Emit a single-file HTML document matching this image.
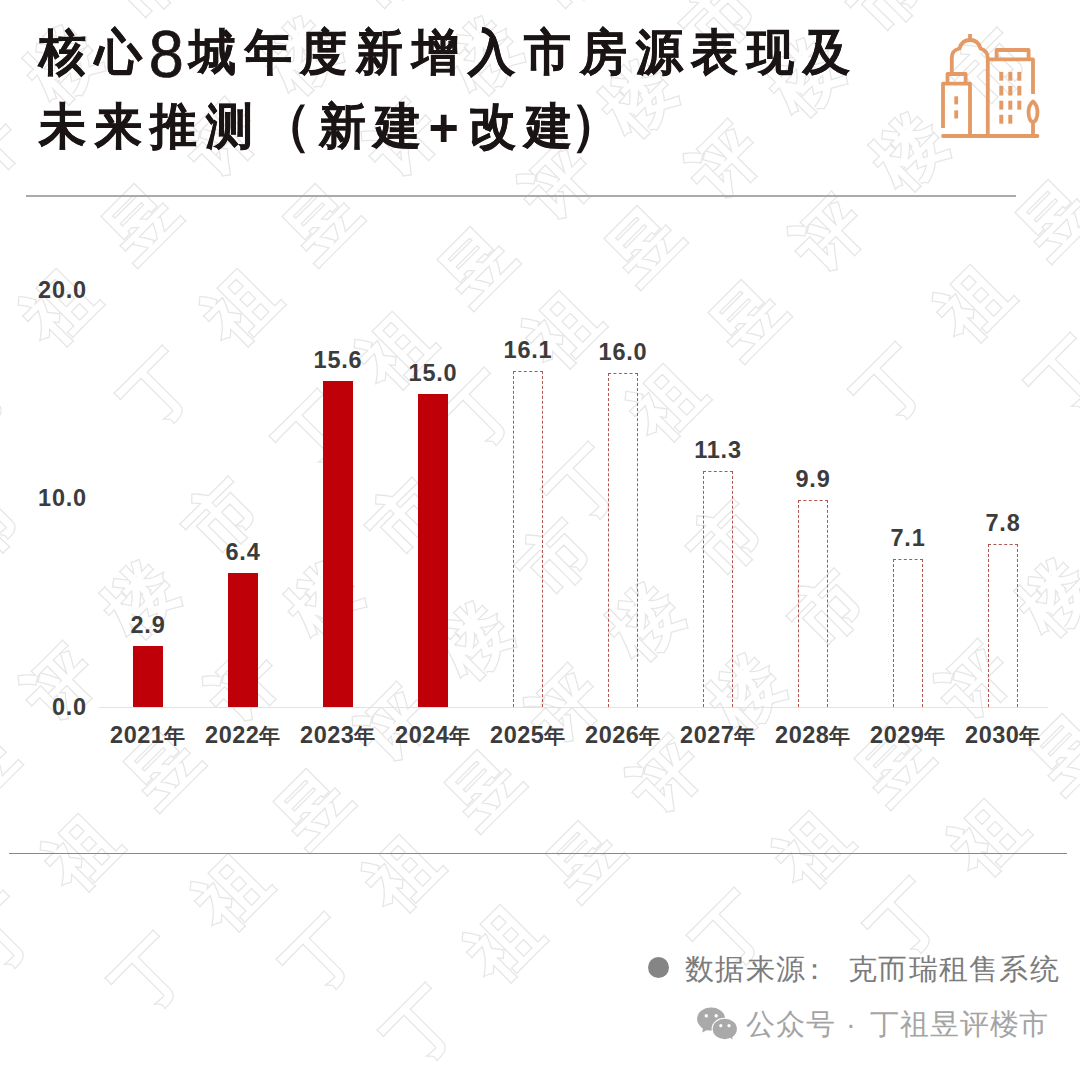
<!DOCTYPE html>
<html><head><meta charset="utf-8">
<style>
html,body{margin:0;padding:0;background:#fff;}
body{width:1080px;height:1067px;position:relative;overflow:hidden;font-family:"Liberation Sans",sans-serif;}
.abs{position:absolute;white-space:nowrap;}
.title{transform:translateY(0.5px) scaleY(1.045);transform-origin:0 24px;left:39px;font-size:47px;font-weight:bold;color:#1a1414;letter-spacing:8.85px;line-height:1;-webkit-text-stroke:0.5px #1a1414;}
.tb{-webkit-text-stroke:1.6px #1a1414;font-weight:normal;font-size:53px;line-height:0;position:relative;top:-0.5px;}
.tp{-webkit-text-stroke:0;font-size:52px;line-height:0;position:relative;top:2.5px;margin-left:-1px;margin-right:2px;}
.t8{-webkit-text-stroke:0.7px #1a1414;font-weight:normal;font-size:63px;letter-spacing:5px;line-height:0;position:relative;top:7px;margin-left:-2px;}
.rule1{position:absolute;left:26px;top:195px;width:990px;height:2px;background:#aaa;}
.rule2{position:absolute;left:9px;top:853px;width:1058px;height:1px;background:#888;}
.axis{position:absolute;left:99px;top:707px;width:949px;height:1px;background:#e2e2e2;}
.ylab{position:absolute;right:993px;font-size:23.5px;letter-spacing:0.8px;font-weight:bold;color:#3c3c3c;line-height:1;}
.bar{position:absolute;width:30px;background:#c00008;}
.dbar{position:absolute;width:30px;box-sizing:border-box;border:1px dashed #b05550;border-bottom:none;}
.val{position:absolute;width:100px;text-align:center;font-size:23.5px;letter-spacing:0.8px;font-weight:bold;color:#3c3c3c;line-height:1;}
.yr{position:absolute;width:100px;text-align:center;font-size:23.5px;letter-spacing:0.5px;font-weight:bold;color:#3c3c3c;line-height:1;}
.cj{font-size:21px;}
.foot{position:absolute;font-size:29px;letter-spacing:1.3px;line-height:1;white-space:nowrap;}
.foot2{color:#a4a4a4;letter-spacing:0.9px;}
.wm{position:absolute;width:90px;height:90px;line-height:90px;text-align:center;font-size:68px;font-weight:normal;color:#e6e6e6;-webkit-text-stroke:5.0px #e6e6e6;transform:rotate(-45deg);font-family:"Liberation Sans",sans-serif;}
.wm2{position:absolute;left:0;top:0;width:90px;height:90px;color:#fff;-webkit-text-stroke:2.4px #fff;}
.wmwrap{position:absolute;left:0;top:0;width:1080px;height:1067px;overflow:hidden;}
</style></head><body>
<div class="wmwrap"><div class="wm" style="left:-63.1px;top:102.9px">评<span class="wm2">评</span></div>
<div class="wm" style="left:17.9px;top:19.4px">楼<span class="wm2">楼</span></div>
<div class="wm" style="left:98.9px;top:-64.1px">市<span class="wm2">市</span></div>
<div class="wm" style="left:-67.4px;top:344.4px">丁<span class="wm2">丁</span></div>
<div class="wm" style="left:13.6px;top:260.9px">祖<span class="wm2">祖</span></div>
<div class="wm" style="left:94.6px;top:177.4px">昱<span class="wm2">昱</span></div>
<div class="wm" style="left:175.6px;top:93.9px">评<span class="wm2">评</span></div>
<div class="wm" style="left:256.6px;top:10.4px">楼<span class="wm2">楼</span></div>
<div class="wm" style="left:337.6px;top:-73.1px">市<span class="wm2">市</span></div>
<div class="wm" style="left:114.4px;top:344.4px">丁<span class="wm2">丁</span></div>
<div class="wm" style="left:195.4px;top:260.9px">祖<span class="wm2">祖</span></div>
<div class="wm" style="left:276.4px;top:177.4px">昱<span class="wm2">昱</span></div>
<div class="wm" style="left:357.4px;top:93.9px">评<span class="wm2">评</span></div>
<div class="wm" style="left:438.4px;top:10.4px">楼<span class="wm2">楼</span></div>
<div class="wm" style="left:519.4px;top:-73.1px">市<span class="wm2">市</span></div>
<div class="wm" style="left:268.9px;top:387.4px">丁<span class="wm2">丁</span></div>
<div class="wm" style="left:349.9px;top:303.9px">祖<span class="wm2">祖</span></div>
<div class="wm" style="left:430.9px;top:220.4px">昱<span class="wm2">昱</span></div>
<div class="wm" style="left:511.9px;top:136.9px">评<span class="wm2">评</span></div>
<div class="wm" style="left:592.9px;top:53.4px">楼<span class="wm2">楼</span></div>
<div class="wm" style="left:673.9px;top:-30.1px">市<span class="wm2">市</span></div>
<div class="wm" style="left:435.9px;top:366.4px">丁<span class="wm2">丁</span></div>
<div class="wm" style="left:516.9px;top:282.9px">祖<span class="wm2">祖</span></div>
<div class="wm" style="left:597.9px;top:199.4px">昱<span class="wm2">昱</span></div>
<div class="wm" style="left:678.9px;top:115.9px">评<span class="wm2">评</span></div>
<div class="wm" style="left:759.9px;top:32.4px">楼<span class="wm2">楼</span></div>
<div class="wm" style="left:840.9px;top:-51.1px">市<span class="wm2">市</span></div>
<div class="wm" style="left:539.9px;top:439.9px">丁<span class="wm2">丁</span></div>
<div class="wm" style="left:620.9px;top:356.4px">祖<span class="wm2">祖</span></div>
<div class="wm" style="left:701.9px;top:272.9px">昱<span class="wm2">昱</span></div>
<div class="wm" style="left:782.9px;top:189.4px">评<span class="wm2">评</span></div>
<div class="wm" style="left:863.9px;top:105.9px">楼<span class="wm2">楼</span></div>
<div class="wm" style="left:944.9px;top:22.4px">市<span class="wm2">市</span></div>
<div class="wm" style="left:846.9px;top:340.4px">丁<span class="wm2">丁</span></div>
<div class="wm" style="left:927.9px;top:256.9px">祖<span class="wm2">祖</span></div>
<div class="wm" style="left:1008.9px;top:173.4px">昱<span class="wm2">昱</span></div>
<div class="wm" style="left:1089.9px;top:89.9px">评<span class="wm2">评</span></div>
<div class="wm" style="left:-45.1px;top:889.4px">丁<span class="wm2">丁</span></div>
<div class="wm" style="left:35.9px;top:805.9px">祖<span class="wm2">祖</span></div>
<div class="wm" style="left:116.9px;top:722.4px">昱<span class="wm2">昱</span></div>
<div class="wm" style="left:197.9px;top:638.9px">评<span class="wm2">评</span></div>
<div class="wm" style="left:278.9px;top:555.4px">楼<span class="wm2">楼</span></div>
<div class="wm" style="left:359.9px;top:471.9px">市<span class="wm2">市</span></div>
<div class="wm" style="left:104.9px;top:929.4px">丁<span class="wm2">丁</span></div>
<div class="wm" style="left:185.9px;top:845.9px">祖<span class="wm2">祖</span></div>
<div class="wm" style="left:266.9px;top:762.4px">昱<span class="wm2">昱</span></div>
<div class="wm" style="left:347.9px;top:678.9px">评<span class="wm2">评</span></div>
<div class="wm" style="left:428.9px;top:595.4px">楼<span class="wm2">楼</span></div>
<div class="wm" style="left:509.9px;top:511.9px">市<span class="wm2">市</span></div>
<div class="wm" style="left:275.9px;top:910.4px">丁<span class="wm2">丁</span></div>
<div class="wm" style="left:356.9px;top:826.9px">祖<span class="wm2">祖</span></div>
<div class="wm" style="left:437.9px;top:743.4px">昱<span class="wm2">昱</span></div>
<div class="wm" style="left:518.9px;top:659.9px">评<span class="wm2">评</span></div>
<div class="wm" style="left:599.9px;top:576.4px">楼<span class="wm2">楼</span></div>
<div class="wm" style="left:680.9px;top:492.9px">市<span class="wm2">市</span></div>
<div class="wm" style="left:377.4px;top:980.9px">丁<span class="wm2">丁</span></div>
<div class="wm" style="left:458.4px;top:897.4px">祖<span class="wm2">祖</span></div>
<div class="wm" style="left:539.4px;top:813.9px">昱<span class="wm2">昱</span></div>
<div class="wm" style="left:620.4px;top:730.4px">评<span class="wm2">评</span></div>
<div class="wm" style="left:701.4px;top:646.9px">楼<span class="wm2">楼</span></div>
<div class="wm" style="left:782.4px;top:563.4px">市<span class="wm2">市</span></div>
<div class="wm" style="left:685.9px;top:886.4px">丁<span class="wm2">丁</span></div>
<div class="wm" style="left:766.9px;top:802.9px">祖<span class="wm2">祖</span></div>
<div class="wm" style="left:847.9px;top:719.4px">昱<span class="wm2">昱</span></div>
<div class="wm" style="left:928.9px;top:635.9px">评<span class="wm2">评</span></div>
<div class="wm" style="left:1009.9px;top:552.4px">楼<span class="wm2">楼</span></div>
<div class="wm" style="left:1090.9px;top:468.9px">市<span class="wm2">市</span></div>
<div class="wm" style="left:860.9px;top:874.4px">丁<span class="wm2">丁</span></div>
<div class="wm" style="left:941.9px;top:790.9px">祖<span class="wm2">祖</span></div>
<div class="wm" style="left:1022.9px;top:707.4px">昱<span class="wm2">昱</span></div>
<div class="wm" style="left:-66.8px;top:721.0px">昱<span class="wm2">昱</span></div>
<div class="wm" style="left:14.2px;top:637.5px">评<span class="wm2">评</span></div>
<div class="wm" style="left:95.2px;top:554.0px">楼<span class="wm2">楼</span></div>
<div class="wm" style="left:176.2px;top:470.5px">市<span class="wm2">市</span></div>
<div class="wm" style="left:-62.5px;top:479.5px">市<span class="wm2">市</span></div>
<div class="wm" style="left:1022.3px;top:330.8px">丁<span class="wm2">丁</span></div></div>
<div class="abs title" style="top:28px">核心<span class="t8">8</span>城年度新增入市房源表现及</div>
<div class="abs title" style="top:101.5px;letter-spacing:8.5px">未来推测<span class="tb" style="margin-left:-2px;margin-right:-2px">（</span>新建<span class="tp">+</span>改建<span class="tb" style="margin-left:-10px">）</span></div>
<svg style="position:absolute;left:930px;top:25px" width="120" height="120" viewBox="930 25 120 120">
<g fill="none" stroke="#e39a64" stroke-width="3.8" stroke-linejoin="round">
<path d="M943,128 V83.6 H970 V136"/>
<path d="M947.5,83.6 V74 H965.6 V83.6"/>
<path d="M951.8,74 V58 C951.8,52 955,49.5 959.5,48.5 C961,43 965,40 970,40 C975,40 979,43 980.5,48.5 C985,50 987.8,53 987.8,58 V136"/>
<path d="M970,40 V34"/>
<path d="M987.8,59.3 H1033 V94"/>
<path d="M996.6,59.3 V50 H1028.6 V59.3"/>
<path d="M1033,123 V136"/>
<path d="M1033,101.5 C1030,104 1028.5,108 1028.5,112 C1028.5,118 1030.5,121.8 1033,121.8 C1035.5,121.8 1037.5,118 1037.5,112 C1037.5,108 1036,104 1033,101.5 Z"/>
<path d="M943,136 H1037.5" stroke-linecap="round"/>
</g>
<g fill="#e39a64">
<rect x="954.3" y="96.3" width="3.8" height="8.1"/>
<rect x="954.3" y="110.4" width="3.8" height="8.1"/>
<rect x="999.3" y="71.9" width="4" height="8.8"/>
<rect x="1008.3" y="71.9" width="4" height="8.8"/>
<rect x="1017.3" y="71.9" width="4" height="8.8"/>
<rect x="999.3" y="85.9" width="4" height="9.6"/>
<rect x="1008.3" y="85.9" width="4" height="9.6"/>
<rect x="1017.3" y="85.9" width="4" height="9.6"/>
<rect x="999.3" y="100.7" width="4" height="8.9"/>
<rect x="1008.3" y="100.7" width="4" height="8.9"/>
<rect x="1017.3" y="100.7" width="4" height="8.9"/>
<rect x="999.3" y="114.8" width="4" height="8.9"/>
<rect x="1008.3" y="114.8" width="4" height="8.9"/>
</g></svg>
<div class="rule1"></div>

<div class="ylab" style="top:278.5px">20.0</div>
<div class="ylab" style="top:487px">10.0</div>
<div class="ylab" style="top:696px">0.0</div>
<div class="axis"></div>

<div class="bar" style="left:133px;top:646.4px;height:60.6px"></div>
<div class="val" style="left:98px;top:614.4px">2.9</div>
<div class="yr" style="left:98px;top:724px">2021<span class="cj">年</span></div>
<div class="bar" style="left:228px;top:573.4px;height:133.6px"></div>
<div class="val" style="left:193px;top:541.4px">6.4</div>
<div class="yr" style="left:193px;top:724px">2022<span class="cj">年</span></div>
<div class="bar" style="left:323px;top:381.3px;height:325.7px"></div>
<div class="val" style="left:288px;top:349.3px">15.6</div>
<div class="yr" style="left:288px;top:724px">2023<span class="cj">年</span></div>
<div class="bar" style="left:418px;top:393.8px;height:313.2px"></div>
<div class="val" style="left:383px;top:361.8px">15.0</div>
<div class="yr" style="left:383px;top:724px">2024<span class="cj">年</span></div>
<div class="dbar" style="left:513px;top:370.8px;height:336.2px"></div>
<div class="val" style="left:478px;top:338.8px">16.1</div>
<div class="yr" style="left:478px;top:724px">2025<span class="cj">年</span></div>
<div class="dbar" style="left:608px;top:372.9px;height:334.1px"></div>
<div class="val" style="left:573px;top:340.9px">16.0</div>
<div class="yr" style="left:573px;top:724px">2026<span class="cj">年</span></div>
<div class="dbar" style="left:703px;top:471.1px;height:235.9px"></div>
<div class="val" style="left:668px;top:439.1px">11.3</div>
<div class="yr" style="left:668px;top:724px">2027<span class="cj">年</span></div>
<div class="dbar" style="left:798px;top:500.3px;height:206.7px"></div>
<div class="val" style="left:763px;top:468.3px">9.9</div>
<div class="yr" style="left:763px;top:724px">2028<span class="cj">年</span></div>
<div class="dbar" style="left:893px;top:558.8px;height:148.2px"></div>
<div class="val" style="left:858px;top:526.8px">7.1</div>
<div class="yr" style="left:858px;top:724px">2029<span class="cj">年</span></div>
<div class="dbar" style="left:988px;top:544.1px;height:162.9px"></div>
<div class="val" style="left:953px;top:512.1px">7.8</div>
<div class="yr" style="left:953px;top:724px">2030<span class="cj">年</span></div>

<div class="rule2"></div>
<div class="foot" style="left:685px;top:955px;color:#7c7c7c">数据来源<span style="margin-left:-6px">：</span></div>
<div class="foot" style="left:848px;top:955px;color:#7c7c7c">克而瑞租售系统</div>
<div style="position:absolute;left:648px;top:957px;width:21px;height:21px;border-radius:50%;background:#858585"></div>
<svg style="position:absolute;left:690px;top:1000px" width="55" height="45" viewBox="690 1000 55 45">
<g fill="#a9a9a9">
<ellipse cx="711.1" cy="1019" rx="14" ry="11.5"/>
<path d="M703,1027 L702.3,1032.6 L709,1029 Z"/>
</g>
<ellipse cx="724.8" cy="1029" rx="13.2" ry="11.2" fill="#fff"/>
<g fill="#a9a9a9">
<ellipse cx="724.8" cy="1029" rx="12.1" ry="10.2"/>
<path d="M728,1036 L732.6,1039.6 L731.8,1033 Z"/>
</g>
<g fill="#fff">
<circle cx="706.3" cy="1015.8" r="1.7"/><circle cx="716.2" cy="1015.8" r="1.7"/>
<circle cx="720.8" cy="1025.7" r="1.6"/><circle cx="729" cy="1025.7" r="1.6"/>
</g>
</svg>

<div class="foot foot2" style="left:746px;top:1010px;">公众号</div>
<div class="foot foot2" style="left:846px;top:1010px;">·</div>
<div class="foot foot2" style="left:870px;top:1010px;">丁祖昱评楼市</div>
</body></html>
